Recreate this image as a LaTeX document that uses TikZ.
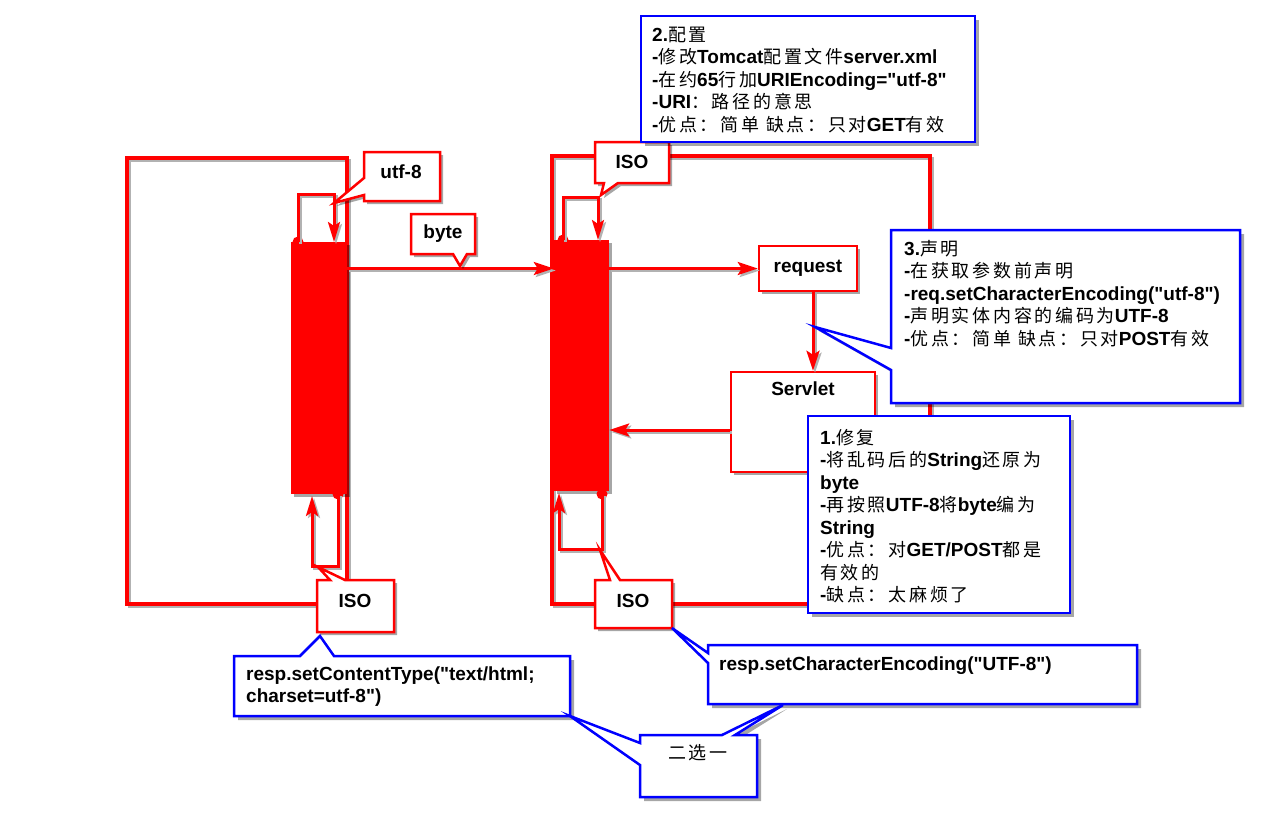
\documentclass[tikz,border=0pt]{standalone}
\usepackage{fontspec}
\setmainfont{Liberation Sans}[Ligatures=TeXOff]
\newfontfamily\cjkf[LetterSpace=15]{Noto Sans CJK SC}
\newcommand\zh[1]{{\cjkf\mdseries\fontsize{18}{22.5}\selectfont #1}}
\usetikzlibrary{arrows.meta,shadows}
\tikzset{
  lshadow/.style={preaction={draw=black!30, line width=3pt, transform canvas={shift={(2pt,-2pt)}}}},
  frame/.style={draw=red, line width=3.5pt, lshadow},
  arr/.style={draw=red, line width=3pt, lshadow, -{Stealth[length=20pt,width=13pt,inset=4pt]}},
  loopln/.style={draw=red, line width=3pt, lshadow, -{Stealth[length=20pt,width=12pt,inset=4pt]}},
  dot/.style={circle, fill=red, inner sep=0pt, minimum size=11pt},
  barbox/.style={fill=red, inner sep=0pt, drop shadow={shadow xshift=3pt, shadow yshift=-3pt, fill=black, opacity=0.35}},
  redbox/.style={draw=red, line width=2.5pt, fill=white, inner sep=0pt, font=\bfseries\fontsize{19}{22.5}\selectfont,
     drop shadow={shadow xshift=3pt, shadow yshift=-3pt, fill=black, opacity=0.35}},
  redcall/.style={draw=red, line width=2.5pt, fill=white, line join=miter,
     drop shadow={shadow xshift=3pt, shadow yshift=-3pt, fill=black, opacity=0.35}},
  bluecall/.style={draw=blue, line width=2.5pt, fill=white, line join=miter,
     drop shadow={shadow xshift=4pt, shadow yshift=-4pt, fill=black, opacity=0.35}},
  lbl/.style={inner sep=0pt, font=\bfseries\fontsize{19}{22.5}\selectfont},
  txt/.style={inner sep=0pt, anchor=north west, align=left, font=\bfseries\fontsize{19}{22.5}\selectfont},
}
\begin{document}
\begin{tikzpicture}[x=1pt,y=-1pt]
\fill[white] (0,0) rectangle (1270,835);
\useasboundingbox (0,0) rectangle (1270,835);

% frames
\draw[frame] (127,158) rectangle (347,604);
\draw[frame] (552,156) rectangle (930,604);

% bars
\node[barbox, minimum width=56pt, minimum height=252pt] (bar1) at (319,368) {};
\node[barbox, minimum width=55pt, minimum height=251pt] (bar2) at (581.5,365.5) {};

% loops
\node[dot] (d1) at (298,242) {};
\node[dot] (d2) at (338,494) {};
\node[dot] (d3) at (563,240) {};
\node[dot] (d4) at (602,494) {};
\draw[loopln] (d1.center) -- (298,194) -- (334,194) -- (334,242);
\draw[loopln] (d2.center) -- (338,566) -- (312,566) -- (312,496);
\draw[loopln] (d3.center) -- (563,197) -- (598,197) -- (598,240);
\draw[loopln] (d4.center) -- (602,549) -- (559,549) -- (559,493);

% request / servlet
\node[redbox, minimum width=98pt, minimum height=45pt] (request) at (808,268.5) {request};
\node[redbox, minimum width=144pt, minimum height=100pt] (servlet) at (803,422) {};
\node[lbl, anchor=north] (servlett) at ([yshift=-11pt]servlet.north) {Servlet};

\draw[arr] (bar1.east |- request.west) -- (bar2.west |- request.west);
\draw[arr] (bar2.east |- request.west) -- (request.west);
\coordinate (rs) at ([xshift=5pt]request.south);
\draw[arr] (rs) -- (rs |- servlet.north);
\coordinate (sw) at ([yshift=-8pt]servlet.west);
\draw[arr] (sw) -- (bar2.east |- sw);

% red callouts
\draw[redcall] (364,152) -- (440,152) -- (440,201) -- (364,201) -- (364,195) -- (334,203) -- (364,178) -- cycle;
\node[lbl] (utf) at (401,172) {utf-8};
\draw[redcall] (411,214) -- (475,214) -- (475,254) -- (467,254) -- (460,266) -- (453,254) -- (411,254) -- cycle;
\node[lbl] (byte) at (443,234) {byte};
\draw[redcall] (595,142) -- (669,142) -- (669,183) -- (618,183) -- (601,195) -- (604,183) -- (595,183) -- cycle;
\node[lbl] (iso1) at (632,162) {ISO};
\draw[redcall] (317,580) -- (330,580) -- (318,567) -- (345,580) -- (394,580) -- (394,632) -- (317,632) -- cycle;
\node[lbl] (iso2) at (355,601) {ISO};
\draw[redcall] (595,580) -- (610,580) -- (600,550) -- (620,580) -- (672,580) -- (672,628) -- (595,628) -- cycle;
\node[lbl] (iso3) at (633,601) {ISO};

% blue callouts
\draw[bluecall] (641,16) rectangle (975,142);
\node[txt] (cfg) at (652,26.5) {2.\zh{配置}\\
-\zh{修改}Tomcat\zh{配置文件}server.xml\\
-\zh{在约}65\zh{行加}URIEncoding="utf-8"\\
-URI\zh{：路径的意思}\\
-\zh{优点：简单 缺点：只对}GET\zh{有效}};

\draw[bluecall] (891,230) -- (1240,230) -- (1240,403) -- (891,403) -- (891,370) -- (815,327) -- (891,348) -- cycle;
\node[txt] (decl) at (904,240) {3.\zh{声明}\\
-\zh{在获取参数前声明}\\
-req.setCharacterEncoding("utf-8")\\
-\zh{声明实体内容的编码为}UTF-8\\
-\zh{优点：简单 缺点：只对}POST\zh{有效}};

\draw[bluecall] (808,416) rectangle (1070,613);
\node[txt] (fix) at (820,429) {1.\zh{修复}\\
-\zh{将乱码后的}String\zh{还原为}\\
byte\\
-\zh{再按照}UTF-8\zh{将}byte\zh{编为}\\
String\\
-\zh{优点：对}GET/POST\zh{都是}\\
\zh{有效的}\\
-\zh{缺点：太麻烦了}};

\draw[bluecall] (234,656) -- (300,656) -- (320,636) -- (334,656) -- (570,656) -- (570,716) -- (234,716) -- cycle;
\node[txt] (ct) at (246,666.5) {resp.setContentType("text/html;\\charset=utf-8")};

\draw[bluecall] (708,645) -- (1137,645) -- (1137,704) -- (708,704) -- (708,663) -- (672,628) -- (708,653) -- cycle;
\node[txt] (ce) at (719,656.5) {resp.setCharacterEncoding("UTF-8")};

\draw[bluecall] (640,735) -- (722,735) -- (783,705) -- (735,735) -- (757,735) -- (757,797) -- (640,797) -- (640,765) -- (570,716) -- (640,743) -- cycle;
\node[txt] (pick) at (668,744) {\zh{二选一}};
\end{tikzpicture}
\end{document}
